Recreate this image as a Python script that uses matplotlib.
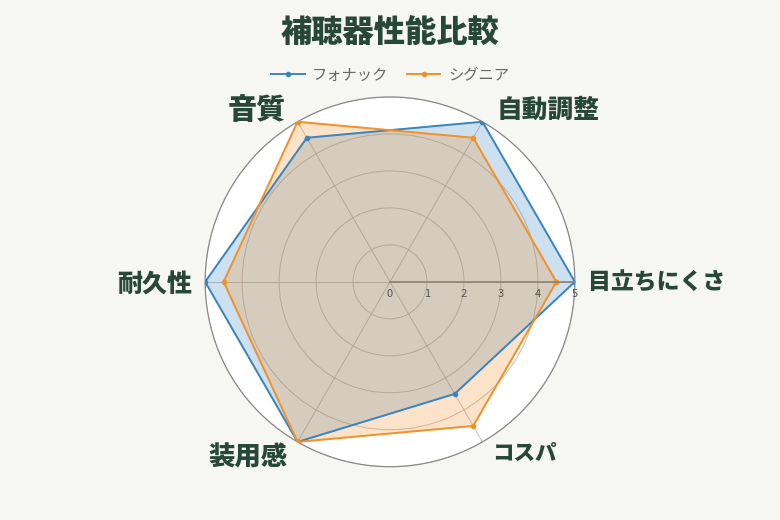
import matplotlib.pyplot as plt
import numpy as np

plt.rcParams['font.family'] = ['Noto Sans CJK JP', 'DejaVu Sans']

# データ
categories = ['目立ちにくさ', '自動調整', '音質', '耐久性', '装用感', 'コスパ']
phonak = [5, 5, 4.5, 5, 5, 3.5]
signia = [4.5, 4.5, 5, 4.5, 5, 4.5]
series_names = ['フォナック', 'シグニア']
ticks = [0, 1, 2, 3, 4, 5]

blue = '#3a84c0'
orange = '#f0912a'
text_col = '#27473b'

angles = np.deg2rad(np.arange(len(categories)) * 60)

fig = plt.figure(figsize=(7.8, 5.2), dpi=100)
fig.patch.set_facecolor('#f6f6f3')
ax = fig.add_axes([0.263, 0.102, 0.474, 0.712], projection='polar')
ax.set_facecolor('white')

a = np.append(angles, angles[0])
for vals, col, name in [(phonak, blue, series_names[0]), (signia, orange, series_names[1])]:
    v = np.append(vals, vals[0])
    ax.fill(a, v, color=col, alpha=0.25, zorder=2)
    ax.plot(a, v, color=col, lw=1.4, marker='o', ms=3, label=name, zorder=3)

ax.set_ylim(0, 5)
ax.set_yticks(ticks[1:])
ax.set_yticklabels([])
ax.set_xticks(angles)
ax.set_xticklabels([])
ax.grid(color='#b5b0aa', lw=0.7, alpha=0.8)
ax.spines['polar'].set_color('#8a8a8a')
ax.spines['polar'].set_linewidth(0.9)
ax.plot([0, 0], [0, 5], color='#8c8378', lw=1.2, zorder=4)

for t in ticks:
    ax.annotate(str(t), (0, t), xytext=(0, -9), textcoords='offset points',
                ha='center', va='center', fontsize=8, color='#555555', zorder=5)

# 軸ラベル
label_pos = [(588, 283, 'left', 16.5), (548, 110, 'center', 18.5), (257, 110, 'center', 21),
             (155, 285, 'center', 18), (248, 457, 'center', 19), (524, 453, 'center', 15.5)]
for cat, (px, py, ha, fs) in zip(categories, label_pos):
    fig.text(px / 780, 1 - py / 520, cat, ha=ha, va='center', fontsize=fs,
             fontweight='black', color=text_col)

fig.text(0.5, 1 - 33 / 520, '補聴器性能比較', ha='center', va='center',
         fontsize=22.5, fontweight='black', color=text_col)

leg = fig.legend(loc='center', bbox_to_anchor=(0.5, 1 - 75 / 520), ncol=2, frameon=False,
                 fontsize=11, handlelength=2.2, columnspacing=1.2, handletextpad=0.5)
for t in leg.get_texts():
    t.set_color('#666666')

fig.savefig('out.png', dpi=100, facecolor=fig.get_facecolor())
